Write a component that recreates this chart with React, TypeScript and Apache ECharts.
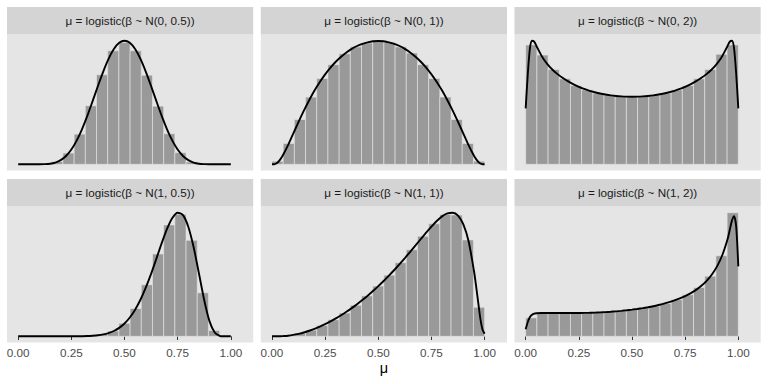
import React, { useEffect, useRef } from "react";
import * as echarts from "echarts";

// ---- data ----
const STRIP_LABELS = [
  "μ = logistic(β ~ N(0, 0.5))",
  "μ = logistic(β ~ N(0, 1))",
  "μ = logistic(β ~ N(0, 2))",
  "μ = logistic(β ~ N(1, 0.5))",
  "μ = logistic(β ~ N(1, 1))",
  "μ = logistic(β ~ N(1, 2))",
];

const X_TICKS = [0, 0.25, 0.5, 0.75, 1];
const N_BINS = 19;

// histogram bar heights (density), 19 bins over [0, 1]
const BARS_0_05 = [0, 0, 0.01, 0.07, 0.29, 0.78, 1.51, 2.31, 2.93, 3.14, 2.93, 2.3, 1.5, 0.79, 0.3, 0.06, 0.01, 0, 0];
const BARS_0_1 = [0.04, 0.27, 0.58, 0.87, 1.11, 1.29, 1.43, 1.52, 1.57, 1.6, 1.58, 1.52, 1.44, 1.29, 1.11, 0.87, 0.58, 0.27, 0.04];
const BARS_0_2 = [1.41, 1.29, 1.12, 1.01, 0.93, 0.88, 0.84, 0.82, 0.8, 0.8, 0.8, 0.82, 0.84, 0.88, 0.93, 1.01, 1.12, 1.3, 1.41];
const BARS_1_05 = [0, 0, 0, 0, 0, 0, 0.02, 0.06, 0.18, 0.44, 0.94, 1.74, 2.78, 3.76, 4.12, 3.24, 1.47, 0.2, 0];
const BARS_1_1 = [0, 0.02, 0.06, 0.12, 0.21, 0.32, 0.45, 0.6, 0.78, 0.97, 1.18, 1.42, 1.67, 1.93, 2.17, 2.35, 2.34, 1.86, 0.56];
const BARS_1_2 = [0.49, 0.61, 0.62, 0.61, 0.61, 0.62, 0.63, 0.65, 0.67, 0.7, 0.75, 0.8, 0.87, 0.97, 1.1, 1.29, 1.59, 2.13, 3.27];

// density curve sample positions
const CURVE_X = [
  0, 0.01, 0.02, 0.03, 0.04, 0.05,
  0.075, 0.1, 0.125, 0.15, 0.175, 0.2, 0.225, 0.25, 0.275, 0.3, 0.325, 0.35, 0.375, 0.4, 0.425, 0.45, 0.475, 0.5,
  0.525, 0.55, 0.575, 0.6, 0.625, 0.65, 0.675, 0.7, 0.725, 0.75, 0.775, 0.8, 0.825, 0.85, 0.875, 0.9, 0.925,
  0.95, 0.96, 0.97, 0.98, 0.99, 1,
];

const DENS_0_05 = [
  0, 0, 0, 0, 0, 0,
  0, 0, 0.004, 0.015, 0.045, 0.107, 0.215, 0.381, 0.611, 0.904, 1.249, 1.63, 2.02, 2.393, 2.72, 2.974, 3.135, 3.19,
  3.135, 2.974, 2.72, 2.393, 2.02, 1.63, 1.249, 0.904, 0.611, 0.381, 0.215, 0.107, 0.045, 0.015, 0.004, 0, 0,
  0, 0, 0, 0, 0, 0,
];
const DENS_0_1 = [
  0, 0.001, 0.011, 0.033, 0.067, 0.11,
  0.245, 0.397, 0.549, 0.695, 0.83, 0.954, 1.065, 1.164, 1.251, 1.327, 1.392, 1.448, 1.494, 1.531, 1.559, 1.579, 1.592, 1.596,
  1.592, 1.579, 1.559, 1.531, 1.494, 1.448, 1.392, 1.327, 1.251, 1.164, 1.065, 0.954, 0.83, 0.695, 0.549, 0.397, 0.245,
  0.11, 0.067, 0.033, 0.011, 0.001, 0,
];
const DENS_0_2 = [
  0.66, 1.07, 1.37, 1.46, 1.45, 1.4,
  1.28, 1.19, 1.12, 1.065, 1.02, 0.98, 0.945, 0.915, 0.89, 0.868, 0.851, 0.836, 0.824, 0.814, 0.807, 0.802, 0.799, 0.798,
  0.799, 0.802, 0.807, 0.814, 0.824, 0.836, 0.851, 0.868, 0.89, 0.915, 0.945, 0.98, 1.02, 1.065, 1.12, 1.19, 1.28,
  1.4, 1.45, 1.46, 1.37, 1.07, 0.66,
];
const DENS_1_05 = [
  0, 0, 0, 0, 0, 0,
  0, 0, 0, 0, 0, 0, 0, 0, 0, 0.004, 0.009, 0.019, 0.035, 0.064, 0.11, 0.18, 0.285, 0.432,
  0.634, 0.898, 1.233, 1.64, 2.109, 2.623, 3.147, 3.627, 3.994, 4.173, 4.091, 3.7, 3.014, 2.127, 1.218, 0.504, 0.119,
  0.009, 0.002, 0, 0, 0, 0,
];
const DENS_1_1 = [
  0, 0, 0, 0, 0.001, 0.004,
  0.012, 0.027, 0.048, 0.074, 0.107, 0.145, 0.187, 0.235, 0.288, 0.345, 0.407, 0.473, 0.544, 0.619, 0.699, 0.784, 0.873, 0.968,
  1.067, 1.171, 1.279, 1.393, 1.51, 1.631, 1.753, 1.877, 2.0, 2.117, 2.225, 2.314, 2.37, 2.385, 2.33, 2.16, 1.83,
  1.26, 0.97, 0.65, 0.34, 0.13, 0.05,
];
const DENS_1_2 = [
  0.19, 0.38, 0.51, 0.57, 0.6, 0.61,
  0.615, 0.615, 0.615, 0.615, 0.615, 0.615, 0.615, 0.617, 0.619, 0.622, 0.626, 0.632, 0.64, 0.65, 0.661, 0.674, 0.689, 0.705,
  0.724, 0.745, 0.769, 0.796, 0.828, 0.864, 0.905, 0.95, 1.003, 1.063, 1.135, 1.222, 1.33, 1.46, 1.63, 1.85, 2.15,
  2.58, 2.82, 3.06, 3.18, 2.9, 1.85,
];

const PANEL_BARS = [BARS_0_05, BARS_0_1, BARS_0_2, BARS_1_05, BARS_1_1, BARS_1_2];
const PANEL_DENS = [DENS_0_05, DENS_0_1, DENS_0_2, DENS_1_05, DENS_1_1, DENS_1_2];

// ---- layout / style ----
const FONT = "'Liberation Sans', Arial, Helvetica, sans-serif";
const COL_LEFT = [7, 260.8, 514.5];
const PANEL_W = 246.2;
const ROW_STRIP_TOP = [7, 179];
const STRIP_H = 27.5;
const PANEL_H = 136;
const X_MIN = -0.0526;
const X_MAX = 1.1053;
const PANEL_BG = "#E5E5E5";
const STRIP_BG = "#D4D4D4";

export default function App() {
  const ref = useRef<HTMLDivElement>(null);

  useEffect(() => {
    if (!ref.current) return;
    const chart = echarts.init(ref.current, undefined, { renderer: "svg" });

    const grids: any[] = [];
    const xAxes: any[] = [];
    const yAxes: any[] = [];
    const series: any[] = [];
    const graphics: any[] = [];

    for (let p = 0; p < 6; p++) {
      const row = Math.floor(p / 3);
      const col = p % 3;
      const left = COL_LEFT[col];
      const stripTop = ROW_STRIP_TOP[row];
      const top = stripTop + STRIP_H;
      grids.push({
        left,
        top,
        width: PANEL_W,
        height: PANEL_H,
        show: true,
        backgroundColor: PANEL_BG,
        borderWidth: 0,
        containLabel: false,
      });
      const bottomRow = row === 1;
      xAxes.push({
        type: "value",
        gridIndex: p,
        min: X_MIN,
        max: X_MAX,
        axisLine: { show: false },
        splitLine: { show: false },
        axisTick: {
          show: bottomRow,
          length: 3.7,
          lineStyle: { color: "#333333", width: 1 },
          customValues: X_TICKS,
        },
        axisLabel: {
          show: bottomRow,
          customValues: X_TICKS,
          formatter: (v: number) => v.toFixed(2),
          color: "#4D4D4D",
          fontSize: 11.7,
          fontFamily: FONT,
          margin: 4,
        },
      });
      const bars = PANEL_BARS[p];
      const dens = PANEL_DENS[p];
      const M = Math.max(...bars, ...dens);
      yAxes.push({
        type: "value",
        gridIndex: p,
        min: -0.05 * M,
        max: 1.05 * M,
        show: false,
        splitLine: { show: false },
      });

      series.push({
        type: "custom",
        xAxisIndex: p,
        yAxisIndex: p,
        data: bars.map((h, i) => [i / N_BINS, (i + 1) / N_BINS, h]),
        renderItem: (params: any, api: any) => {
          const x0 = api.value(0);
          const x1 = api.value(1);
          const h = api.value(2);
          const a = api.coord([x0, h]);
          const b = api.coord([x1, 0]);
          return {
            type: "rect",
            shape: { x: a[0], y: a[1], width: b[0] - a[0], height: b[1] - a[1] },
            style: { fill: "#999999", stroke: "#E8E8E8", lineWidth: 0.6 },
          };
        },
        silent: true,
      });
      series.push({
        type: "line",
        xAxisIndex: p,
        yAxisIndex: p,
        data: CURVE_X.map((x, i) => [x, dens[i]]),
        showSymbol: false,
        smooth: 0.25,
        lineStyle: { color: "#000000", width: 1.9 },
        silent: true,
        z: 3,
      });

      graphics.push({
        type: "rect",
        shape: { x: left, y: stripTop, width: PANEL_W, height: STRIP_H },
        style: { fill: STRIP_BG },
        silent: true,
      });
      graphics.push({
        type: "text",
        x: left + PANEL_W / 2,
        y: stripTop + STRIP_H / 2,
        style: {
          text: STRIP_LABELS[p],
          fill: "#1A1A1A",
          fontSize: 11.7,
          fontFamily: FONT,
          align: "center",
          verticalAlign: "middle",
        },
        silent: true,
      });
    }

    graphics.push({
      type: "text",
      x: (COL_LEFT[0] + COL_LEFT[2] + PANEL_W) / 2,
      y: 368,
      style: {
        text: "μ",
        fill: "#000000",
        fontSize: 14.5,
        fontFamily: FONT,
        align: "center",
        verticalAlign: "middle",
      },
      silent: true,
    });

    chart.setOption({
      animation: false,
      backgroundColor: "#FFFFFF",
      grid: grids,
      xAxis: xAxes,
      yAxis: yAxes,
      series,
      graphic: graphics,
    });

    return () => chart.dispose();
  }, []);

  return (
    <div
      ref={ref}
      style={{ position: "fixed", left: 0, top: 0, width: 768, height: 384, background: "#fff" }}
    />
  );
}
